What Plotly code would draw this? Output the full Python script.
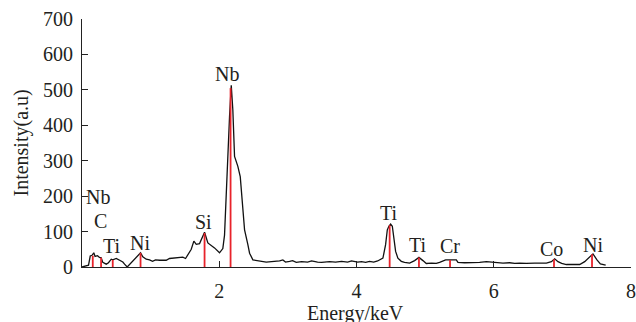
import plotly.graph_objects as go

# Spectrum (energy in keV, intensity in a.u.)
energy = [0.0, 0.05, 0.095, 0.12, 0.146, 0.172, 0.19, 0.226, 0.255, 0.28, 0.303, 0.353, 0.386,
          0.426, 0.449, 0.499, 0.547, 0.595, 0.62, 0.659, 0.853, 0.886, 0.936, 0.984, 1.028,
          1.071, 1.13, 1.227, 1.275, 1.348, 1.421, 1.469, 1.509, 1.542, 1.592, 1.63, 1.665,
          1.713, 1.786, 1.834, 1.873, 1.931, 2.004, 2.052, 2.077, 2.102, 2.125, 2.15, 2.175,
          2.198, 2.223, 2.271, 2.306, 2.335, 2.369, 2.417, 2.442, 2.49, 2.563, 2.617, 2.685,
          2.762, 2.82, 2.879, 2.927, 2.966, 3.025, 3.069, 3.122, 3.2, 3.287, 3.346, 3.433,
          3.491, 3.608, 3.695, 3.783, 3.87, 3.928, 4.016, 4.074, 4.133, 4.19, 4.25, 4.308,
          4.36, 4.385, 4.424, 4.449, 4.472, 4.497, 4.522, 4.545, 4.57, 4.603, 4.653, 4.70,
          4.774, 4.847, 4.91, 4.968, 5.017, 5.095, 5.163, 5.211, 5.299, 5.455, 5.478, 5.576,
          5.697, 5.794, 5.892, 5.988, 6.057, 6.134, 6.232, 6.305, 6.378, 6.475, 6.596, 6.767,
          6.84, 6.888, 6.936, 6.99, 7.058, 7.252, 7.325, 7.398, 7.446, 7.504, 7.554, 7.631]
intensity = [0, 2, 5, 31, 33, 40, 30, 32, 27, 26, 13, 8, 12,
             22, 20, 24, 20, 14, 8, 0, 40, 29, 22, 20, 16,
             20, 19, 19, 24, 25, 26, 28, 24, 36, 50, 73, 64,
             66, 98, 68, 62, 54, 40, 52, 90, 209, 349, 425, 513,
             443, 312, 284, 255, 180, 105, 63, 39, 20, 18, 17, 14,
             15, 16, 17, 20, 14, 16, 18, 13, 15, 14, 17, 14,
             13, 15, 14, 16, 14, 17, 14, 15, 13, 16, 14, 17,
             22, 25, 63, 105, 115, 121, 115, 87, 44, 25, 16, 13,
             11, 18, 27, 18, 10, 11, 10, 13, 20, 20, 13, 12,
             12, 13, 15, 13, 12, 11, 12, 10, 11, 10, 11, 11,
             15, 23, 15, 10, 7, 7, 15, 28, 37, 20, 9, 5]

# Element marker lines
line_energy = [0.157, 0.278, 0.448, 0.853, 1.786, 2.165, 4.483, 4.91, 5.363, 6.878, 7.432]
line_height = [32, 26, 20, 40, 96, 505, 118, 27, 20, 22, 36]

# Element labels
label_text = ["Nb", "C", "Ti", "Ni", "Si", "Nb", "Ti", "Ti", "Cr", "Co", "Ni"]
label_x = [0.23, 0.27, 0.43, 0.84, 1.77, 2.11, 4.47, 4.89, 5.36, 6.84, 7.44]
label_y = [198, 131, 58, 69, 128, 544, 153, 63, 58, 52, 63]

x_ticks = [2, 4, 6, 8]
y_ticks = [0, 100, 200, 300, 400, 500, 600, 700]

FONT = "Liberation Serif, Times New Roman, serif"
TXT = "#231f20"

fig = go.Figure()
fig.add_trace(go.Scatter(x=energy, y=intensity, mode="lines",
                         line=dict(color="#111111", width=1.3), hoverinfo="skip"))

rx, ry = [], []
for e, h in zip(line_energy, line_height):
    rx += [e, e, None]
    ry += [0, h, None]
fig.add_trace(go.Scatter(x=rx, y=ry, mode="lines",
                         line=dict(color="#e8232b", width=1.8), hoverinfo="skip"))

for t, x, y in zip(label_text, label_x, label_y):
    fig.add_annotation(x=x, y=y, text=t, showarrow=False,
                       font=dict(family=FONT, size=20, color=TXT),
                       xanchor="center", yanchor="middle")

fig.add_annotation(xref="paper", yref="paper", x=0.499, y=-0.186, text="Energy/keV",
                   showarrow=False, font=dict(family=FONT, size=20, color=TXT),
                   xanchor="center", yanchor="middle")
fig.add_annotation(xref="paper", yref="paper", x=-0.112, y=0.5, text="Intensity(a.u)",
                   showarrow=False, textangle=-90, font=dict(family=FONT, size=20, color=TXT),
                   xanchor="center", yanchor="middle")

fig.update_layout(
    width=636, height=322,
    margin=dict(l=82, r=5, t=19, b=55, autoexpand=False),
    paper_bgcolor="white", plot_bgcolor="white",
    showlegend=False,
    font=dict(family=FONT, size=20, color=TXT),
)
fig.update_xaxes(range=[0, 8], tickvals=x_ticks, ticks="inside", ticklen=6, tickwidth=1.2,
                 tickcolor="#222", showline=True, linecolor="#222", linewidth=1.2,
                 showgrid=False, zeroline=False, ticklabelstandoff=6, automargin=False,
                 ticklabeloverflow="allow",
                 tickfont=dict(family=FONT, size=20, color=TXT))
fig.update_yaxes(range=[0, 700], tickvals=y_ticks, ticks="inside", ticklen=6, tickwidth=1.2,
                 tickcolor="#222", showline=True, linecolor="#222", linewidth=1.2,
                 showgrid=False, zeroline=False, ticklabelstandoff=4, automargin=False,
                 ticklabeloverflow="allow",
                 tickfont=dict(family=FONT, size=20, color=TXT))

fig.write_html("out.html", config={"displayModeBar": False},
               post_script="document.body.style.margin='0';document.body.style.overflow='hidden';")
